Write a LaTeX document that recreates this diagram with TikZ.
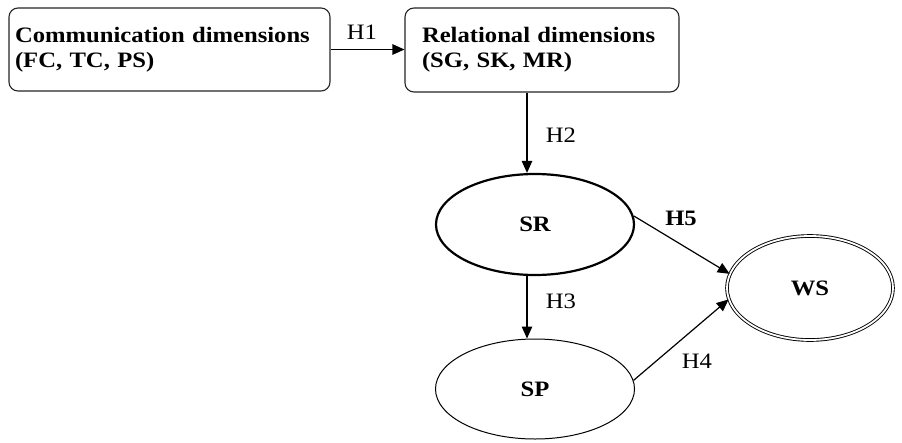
\documentclass[tikz,border=0pt]{standalone}
\usepackage{fontspec}
\setmainfont[FakeStretch=1.12]{Liberation Serif}
\usetikzlibrary{arrows.meta,shapes.geometric}
\begin{document}
\begin{tikzpicture}[x=1pt,y=-1pt,
  font=\fontsize{22}{25}\selectfont,
  dimbox/.style={draw=black!85, line width=1.1pt, rounded corners=9pt, align=left,
    font=\fontsize{22}{25}\selectfont\bfseries, inner ysep=0pt},
  construct/.style={ellipse, draw, inner sep=0pt, font=\fontsize{22}{25}\selectfont\bfseries},
  link/.style={line width=1.2pt, -{Triangle[length=12pt,width=10.5pt]}},
  hlabel/.style={inner sep=0pt}
]
\useasboundingbox[fill=white] (0,0) rectangle (902,442);

\node[dimbox, minimum width=321pt, minimum height=83pt, text width=309pt, inner xsep=6pt]
  (comm) at (169.5,49.5) {Communication dimensions\\(FC, TC, PS)};
\node[dimbox, minimum width=274pt, minimum height=84pt, text width=240pt, inner xsep=17pt]
  (rel) at (542,50) {Relational dimensions\\(SG, SK, MR)};

\node[construct, line width=2.2pt, minimum width=198pt, minimum height=101pt] (SR) at (535,224.5) {SR};
\node[construct, line width=1pt, minimum width=199pt, minimum height=100pt] (SP) at (535,389) {SP};
\node[construct, line width=0.9pt, double, double distance=1.8pt,
  minimum width=166pt, minimum height=104pt] (WS) at (810,288) {WS};

\coordinate (vx) at (527,0);

\draw[link] (comm.east) -- (comm.east -| rel.west);
\draw[link] (rel.south -| vx) -- (SR.north -| vx);
\draw[link] (SR.south -| vx) -- (SP.north -| vx);
\draw[link] (SR.5) -- (WS.170);
\draw[link] (SP.5) -- (WS.188);

\node[hlabel] (h1) at (362,32) {H1};
\node[hlabel] (h2) at (561,135) {H2};
\node[hlabel] (h3) at (561,301) {H3};
\node[hlabel, font=\fontsize{22}{25}\selectfont\bfseries] (h5) at (681,218) {H5};
\node[hlabel] (h4) at (697,361) {H4};
\end{tikzpicture}
\end{document}
